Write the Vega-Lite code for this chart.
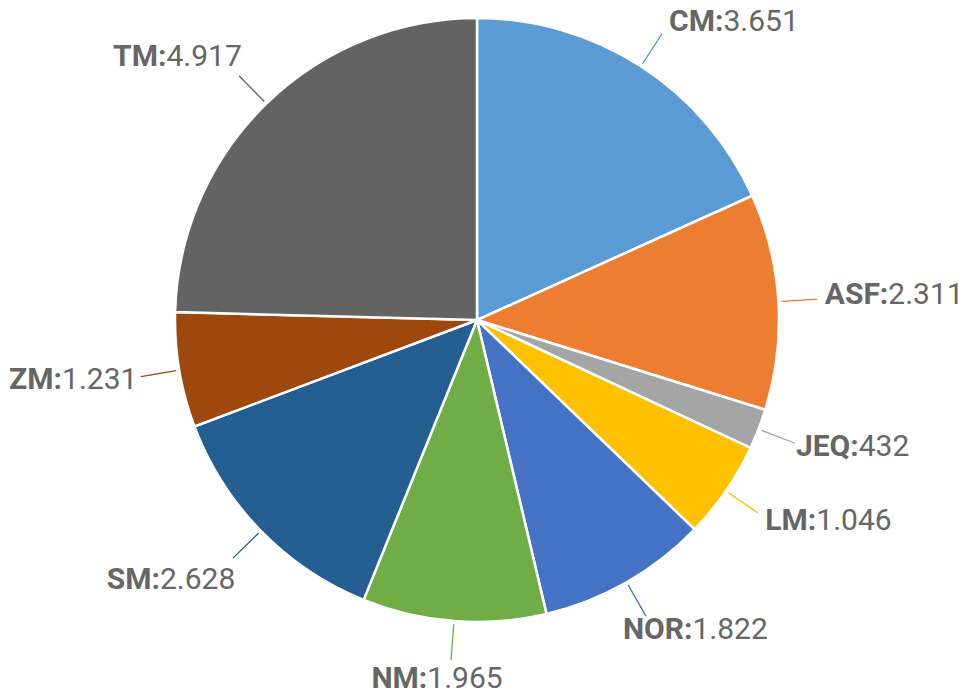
{
  "$schema": "https://vega.github.io/schema/vega-lite/v6.json",
  "width": 954,
  "height": 640,
  "autosize": {"type": "none"},
  "padding": {"left": 0, "top": 0, "right": 19, "bottom": 58},
  "background": "white",
  "view": {"stroke": null},
  "data": {
    "values": [
      {"name": "CM", "value": 3651},
      {"name": "ASF", "value": 2311},
      {"name": "JEQ", "value": 432},
      {"name": "LM", "value": 1046},
      {"name": "NOR", "value": 1822},
      {"name": "NM", "value": 1965},
      {"name": "SM", "value": 2628},
      {"name": "ZM", "value": 1231},
      {"name": "TM", "value": 4917}
    ]
  },
  "transform": [
    {"window": [{"op": "row_number", "as": "idx"}]},
    {"joinaggregate": [{"op": "sum", "field": "value", "as": "total"}]}
  ],
  "encoding": {
    "theta": {"field": "value", "type": "quantitative", "stack": true},
    "order": {"field": "idx", "type": "quantitative"}
  },
  "layer": [
    {
      "mark": {"type": "arc", "radius": 302, "stroke": "white", "strokeWidth": 2.5},
      "encoding": {
        "color": {
          "field": "name", "type": "nominal", "legend": null,
          "scale": {
            "domain": ["CM", "ASF", "JEQ", "LM", "NOR", "NM", "SM", "ZM", "TM"],
            "range": ["#5B9BD5", "#ED7D31", "#A5A5A5", "#FFC000", "#4472C4", "#70AD47", "#255E91", "#9E480E", "#636363"]
          }
        }
      }
    },
    {
      "mark": {"type": "arc", "radius": 341, "radius2": 305, "padAngle": 1.5, "filled": false, "strokeWidth": 1.3},
      "encoding": {
        "color": {"field": "name", "type": "nominal", "legend": null}
      }
    },
    {
      "mark": {
        "type": "text", "radius": 362, "align": "right", "baseline": "middle",
        "font": "Roboto", "fontSize": 30, "fontWeight": "bold", "fill": "#666666",
        "dx": {"expr": "(sin(PI*(datum.value_start+datum.value_end)/datum.total) > 0 ? 50*clamp(5*sin(PI*(datum.value_start+datum.value_end)/datum.total), 0, 1) : 58*clamp(5*sin(PI*(datum.value_start+datum.value_end)/datum.total), -1, 0)) + (sin(PI*(datum.value_start+datum.value_end)/datum.total) > 0.2 ? 16*min(0, cos(PI*(datum.value_start+datum.value_end)/datum.total)) : 0)"},
        "dy": {"expr": "22*max(0, sin(PI*(datum.value_start+datum.value_end)/datum.total)*cos(PI*(datum.value_start+datum.value_end)/datum.total)) - 4"},
        "text": {"expr": "datum.name + ':'"}
      },
      "encoding": {"detail": {"field": "name", "type": "nominal"}}
    },
    {
      "mark": {
        "type": "text", "radius": 362, "align": "left", "baseline": "middle",
        "font": "Roboto", "fontSize": 30, "fontWeight": "normal", "fill": "#666666",
        "dx": {"expr": "(sin(PI*(datum.value_start+datum.value_end)/datum.total) > 0 ? 50*clamp(5*sin(PI*(datum.value_start+datum.value_end)/datum.total), 0, 1) : 58*clamp(5*sin(PI*(datum.value_start+datum.value_end)/datum.total), -1, 0)) + (sin(PI*(datum.value_start+datum.value_end)/datum.total) > 0.2 ? 16*min(0, cos(PI*(datum.value_start+datum.value_end)/datum.total)) : 0)"},
        "dy": {"expr": "22*max(0, sin(PI*(datum.value_start+datum.value_end)/datum.total)*cos(PI*(datum.value_start+datum.value_end)/datum.total)) - 4"},
        "text": {"expr": "replace(format(datum.value, ','), ',', '.')"}
      },
      "encoding": {"detail": {"field": "name", "type": "nominal"}}
    }
  ]
}
